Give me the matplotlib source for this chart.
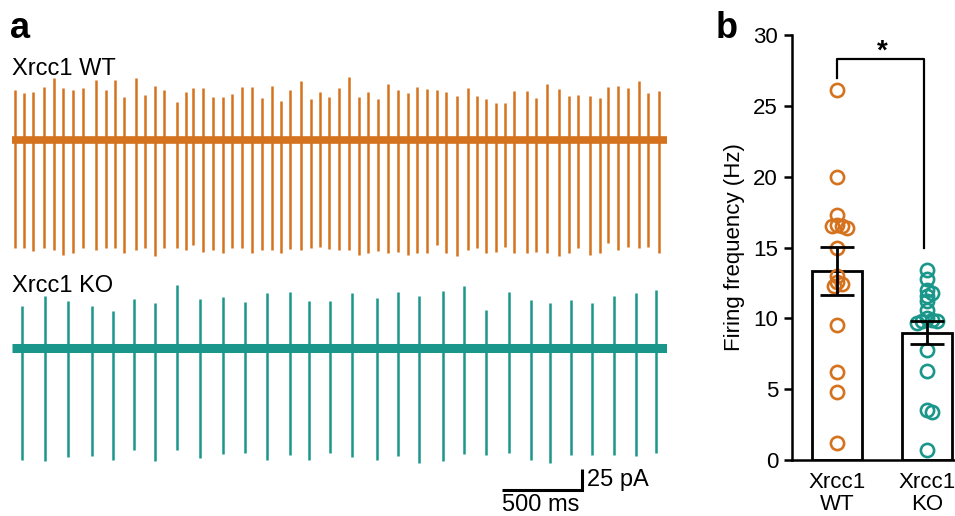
import numpy as np
import matplotlib
matplotlib.use("Agg")
import matplotlib.pyplot as plt

plt.rcParams['font.family'] = ['Liberation Sans', 'DejaVu Sans']

# ---------------- data: panel a (spike trains) ----------------
# spike times (ms) and peak amplitudes (pA, upward / downward from baseline)
wt_spike_t = [19, 77, 133, 202, 264, 321, 383, 446, 525, 588, 644, 702, 775, 831, 894, 952,
              1029, 1086, 1133, 1192, 1254, 1317, 1377, 1436, 1498, 1561, 1623, 1681, 1738,
              1806, 1867, 1925, 1983, 2046, 2108, 2169, 2223, 2289, 2348, 2411, 2477, 2533,
              2596, 2654, 2711, 2783, 2848, 2904, 2963, 3023, 3081, 3139, 3217, 3275, 3346,
              3421, 3483, 3539, 3613, 3675, 3727, 3786, 3852, 3919, 3977, 4044]
wt_spike_up = [60, 57, 58, 64, 74, 62, 60, 62, 72, 60, 72, 52, 74, 54, 65, 60, 46, 58, 62, 62,
               52, 52, 55, 63, 63, 51, 65, 47, 60, 71, 49, 58, 52, 62, 76, 52, 58, 49, 67, 60,
               56, 63, 61, 60, 58, 53, 62, 53, 49, 45, 44, 59, 59, 50, 67, 61, 53, 54, 53, 50,
               64, 65, 62, 71, 57, 59]
wt_spike_down = [130, 130, 133, 130, 132, 138, 136, 130, 132, 130, 130, 136, 132, 130, 139, 130,
                 130, 132, 126, 134, 132, 136, 130, 130, 136, 132, 132, 136, 131, 132, 130, 128,
                 131, 132, 132, 138, 136, 133, 135, 134, 138, 136, 136, 126, 136, 139, 132, 130,
                 136, 134, 128, 135, 136, 134, 136, 139, 135, 130, 138, 136, 124, 132, 128, 130,
                 128, 136]

ko_spike_t = [61, 206, 352, 498, 629, 764, 894, 1029, 1175, 1321, 1456, 1592, 1738, 1855, 1988,
              2127, 2283, 2411, 2546, 2696, 2827, 2963, 3108, 3242, 3363, 3492, 3627, 3763,
              3900, 4025]
ko_spike_up = [50, 62, 56, 50, 44, 59, 54, 76, 59, 61, 55, 66, 67, 56, 56, 66, 60, 67, 62, 68,
               74, 46, 67, 58, 54, 58, 54, 62, 66, 70]
ko_spike_down = [134, 136, 131, 130, 134, 122, 135, 122, 132, 127, 126, 134, 128, 134, 126, 131,
                 134, 130, 138, 136, 127, 128, 126, 134, 138, 128, 128, 128, 130, 126]

trace_labels = ["Xrcc1 WT", "Xrcc1 KO"]
trace_duration_ms = 4094
scalebar_t_ms = 500
scalebar_pA = 25

# ---------------- data: panel b (firing frequency) ----------------
groups = ["Xrcc1\nWT", "Xrcc1\nKO"]
wt_freq = [26.1, 20.0, 17.3, 16.6, 16.5, 16.5, 16.4, 15.0, 13.0, 12.6, 12.4, 12.3, 9.5, 6.2, 4.8, 1.2]
ko_freq = [13.4, 12.8, 12.0, 11.8, 11.6, 11.2, 10.6, 10.0, 9.9, 9.8, 9.8, 9.7, 7.8, 6.3, 3.5, 3.4, 0.7]
group_mean = [13.35, 9.0]
group_sem = [1.72, 0.8]
yticks_b = [0, 5, 10, 15, 20, 25, 30]

ORANGE = '#D5721E'
TEAL = '#1A968A'

W, H = 955, 516
fig = plt.figure(figsize=(W / 100, H / 100), dpi=100)

# ---------------- panel a ----------------
PX_MS = 6.25     # ms per pixel
PX_PA = 1.2      # pA per pixel
axa = fig.add_axes([12 / W, 0, (trace_duration_ms / PX_MS) / W, 1])
axa.set_xlim(0, trace_duration_ms)
axa.set_ylim(0, H * PX_PA)
axa.axis('off')

wt_base = (H - 140) * PX_PA
ko_base = (H - 348) * PX_PA

for base, ts, ups, downs, col, bw in [
        (wt_base, wt_spike_t, wt_spike_up, wt_spike_down, ORANGE, 5.5),
        (ko_base, ko_spike_t, ko_spike_up, ko_spike_down, TEAL, 6.5)]:
    axa.plot([0, trace_duration_ms], [base, base], color=col, lw=bw, solid_capstyle='butt')
    ts = np.array(ts)
    axa.vlines(ts, base - np.array(downs), base + np.array(ups), color=col, lw=1.8)

# scale bar
sb_x1 = (582 - 12) * PX_MS
sb_y0 = (H - 490) * PX_PA
axa.plot([sb_x1 - scalebar_t_ms, sb_x1, sb_x1], [sb_y0, sb_y0, sb_y0 + scalebar_pA],
         color='black', lw=2.2, solid_capstyle='butt', solid_joinstyle='miter')
axa.text(sb_x1 + 5 * PX_MS, sb_y0 + scalebar_pA / 2, f"{scalebar_pA} pA", fontsize=17,
         ha='left', va='center')
axa.text(sb_x1 - scalebar_t_ms, sb_y0 - 4 * PX_PA, f"{scalebar_t_ms} ms", fontsize=17,
         ha='left', va='top')

fig.text(12 / W, 1 - 75 / H, trace_labels[0], fontsize=17, ha='left', va='baseline')
fig.text(12 / W, 1 - 292 / H, trace_labels[1], fontsize=17, ha='left', va='baseline')
fig.text(10 / W, 1 - 38 / H, 'a', fontsize=26, fontweight='bold', ha='left', va='baseline')
fig.text(716 / W, 1 - 38 / H, 'b', fontsize=26, fontweight='bold', ha='left', va='baseline')

# ---------------- panel b ----------------
y0_px, y30_px = 460, 35
axb = fig.add_axes([792 / W, (H - y0_px) / H, (W - 792) / W, (y0_px - y30_px) / H])
axb.set_xlim(-0.5, (W - 792) / 90 - 0.5)
axb.set_ylim(0, 30)
for s in ['top', 'right']:
    axb.spines[s].set_visible(False)
for s in ['left', 'bottom']:
    axb.spines[s].set_linewidth(1.8)
axb.set_yticks(yticks_b)
axb.tick_params(axis='y', length=6, width=1.8, labelsize=16, pad=4)
axb.tick_params(axis='x', length=0, labelsize=16, pad=9)
axb.set_xticks([0, 1])
axb.set_xticklabels(groups, linespacing=1.05)
axb.set_ylabel("Firing frequency (Hz)", fontsize=16, labelpad=6)

xpos = [0, 1]
axb.bar(xpos, group_mean, width=0.56, color='white', edgecolor='black', linewidth=2.0, zorder=1)


def swarm(values, px_per_x=90.0, px_per_y=425 / 30, min_d=5.0, step=1.0):
    placed = []
    offs = []
    for v in values:
        yp = v * px_per_y
        k = 0
        while True:
            cands = [0.0] if k == 0 else [k * step, -k * step]
            ok = None
            for c in cands:
                if all((c - px) ** 2 + (yp - py) ** 2 >= min_d ** 2 for px, py in placed):
                    ok = c
                    break
            if ok is not None:
                placed.append((ok, yp))
                offs.append(ok / px_per_x)
                break
            k += 1
    return np.array(offs)


for xi, vals, col in [(0, wt_freq, ORANGE), (1, ko_freq, TEAL)]:
    offs = swarm(vals)
    axb.plot(xi + offs, vals, 'o', ms=9.5, mfc='none', mec=col, mew=1.9, zorder=3,
             clip_on=False)

axb.errorbar(xpos, group_mean, yerr=group_sem, fmt='none', ecolor='black', elinewidth=2.0,
             capsize=12, capthick=2.0, zorder=4)

# significance bracket
axb.plot([0, 0, 0.97, 0.97], [26.95, 28.3, 28.3, 15.0], color='black', lw=1.6, clip_on=False)
axb.text(0.5, 27.9, '*', fontsize=20, fontweight='bold', ha='center', va='bottom')

fig.savefig('out.png', dpi=100)
